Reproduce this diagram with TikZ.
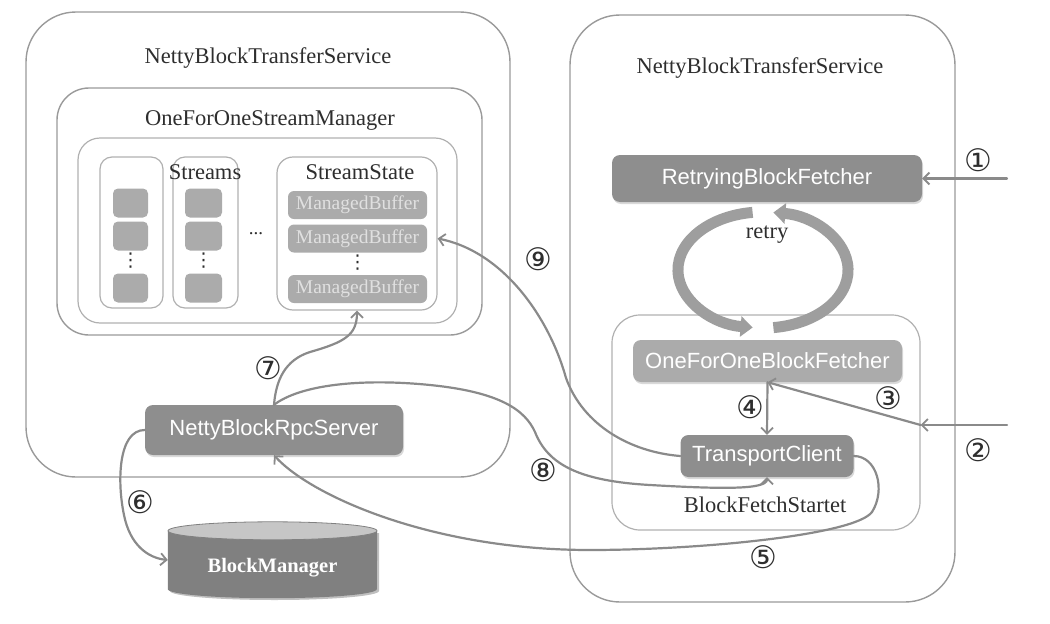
\documentclass[tikz,border=0pt]{standalone}
\usepackage{fontspec}
\setmainfont{Liberation Serif}
\setsansfont{Liberation Sans}
\newfontfamily\circfont{DejaVu Sans}
\usetikzlibrary{arrows.meta,shadows}
\definecolor{frameC}{HTML}{9A9A9A}
\definecolor{innerC}{HTML}{B0B0B0}
\definecolor{darkbox}{HTML}{8E8E8E}
\definecolor{lightbox}{HTML}{ABABAB}
\definecolor{lineC}{HTML}{8A8A8A}
\definecolor{cylC}{HTML}{808080}
\definecolor{cyltop}{HTML}{C6C6C6}
\definecolor{txtC}{HTML}{2E2E2E}
\definecolor{retryC}{HTML}{9E9E9E}
\begin{document}
\begin{tikzpicture}[x=1pt,y=-1pt,
  outerframe/.style={draw=frameC, line width=1.4pt, inner sep=0pt},
  innerframe/.style={draw=innerC, line width=1.2pt, inner sep=0pt},
  gbox/.style={fill=darkbox, rounded corners=8pt, inner sep=0pt, text=white,
    font=\sffamily\fontsize{22}{26}\selectfont,
    drop shadow={shadow xshift=1pt,shadow yshift=-2pt,opacity=0.3}},
  lbox/.style={gbox, fill=lightbox},
  mbbox/.style={fill=lightbox, rounded corners=6pt, inner sep=0pt, text=white!88!black,
    font=\fontsize{19.5}{22}\selectfont, minimum width=139pt, minimum height=28pt},
  sq/.style={fill=lightbox, rounded corners=5pt, inner sep=0pt, minimum height=29pt},
  lblserif/.style={font=\fontsize{22.5}{26}\selectfont, text=txtC, inner sep=0pt},
  circ/.style={font=\circfont\fontsize{31}{34}\selectfont, text=txtC, inner sep=0pt},
  vdotsnode/.style={font=\circfont\fontsize{19}{19}\selectfont, text=txtC, inner sep=0pt},
  dotsnode/.style={font=\fontsize{19}{19}\selectfont, text=txtC, inner sep=0pt},
  conn/.style={draw=lineC, line width=2.2pt, line cap=round,
    -{Straight Barb[length=6pt,width=12pt,line width=1.8pt]}}
]
\useasboundingbox (0,0) rectangle (1050,624);

% ---------------- left service ----------------
\node[outerframe, rounded corners=50pt, minimum width=484pt, minimum height=465pt] (lsvc) at (268,244.5) {};
\node[lblserif] (ltitle) at (268,58) {NettyBlockTransferService};
\node[outerframe, rounded corners=32pt, minimum width=425pt, minimum height=247pt] (osm) at (269.5,211.5) {};
\node[lblserif] (osmtitle) at (270,120) {OneForOneStreamManager};
\node[innerframe, rounded corners=22pt, minimum width=379pt, minimum height=185pt] (streamsbox) at (267.5,230.5) {};
\node[innerframe, rounded corners=12pt, minimum width=63pt, minimum height=151pt] (col1) at (131.5,232.5) {};
\node[innerframe, rounded corners=12pt, minimum width=65pt, minimum height=151pt] (col2) at (205.5,232.5) {};
\node[lblserif] (streamslbl) at (205,172) {Streams};
\node[sq, minimum width=35pt] (s11) at (130.5,203) {};
\node[sq, minimum width=35pt] (s12) at (130.5,236) {};
\node[vdotsnode] (d1) at (130.5,261) {⋮};
\node[sq, minimum width=35pt] (s13) at (130.5,288) {};
\node[sq, minimum width=37pt] (s21) at (203.5,203) {};
\node[sq, minimum width=37pt] (s22) at (203.5,236) {};
\node[vdotsnode] (d2) at (203.5,261) {⋮};
\node[sq, minimum width=37pt] (s23) at (203.5,288) {};
\node[dotsnode] (hd) at (256,234) {...};
\node[innerframe, rounded corners=16pt, minimum width=160pt, minimum height=153pt] (ss) at (357,233.5) {};
\node[lblserif] (sslbl) at (360,172) {StreamState};
\node[mbbox] (mb1) at (357.5,205) {ManagedBuffer};
\node[mbbox] (mb2) at (357.5,238.5) {ManagedBuffer};
\node[vdotsnode] (d3) at (357.5,263) {⋮};
\node[mbbox] (mb3) at (357.5,289) {ManagedBuffer};

\node[gbox, minimum width=258pt, minimum height=50pt] (nbrs) at (274,430) {NettyBlockRpcServer};

% BlockManager cylinder
\node[minimum width=209pt, minimum height=58pt, inner sep=0pt] (bm) at (272.5,560) {};
\fill[black, opacity=0.25] (170,533) -- (170,591) arc[start angle=180, end angle=360, x radius=104.5pt, y radius=9pt] -- (379,533) -- cycle;
\fill[cylC] (bm.north west) -- (bm.south west) arc[start angle=180, end angle=360, x radius=104.5pt, y radius=9pt] -- (bm.north east) -- cycle;
\filldraw[fill=cyltop, draw=cylC, line width=0.8pt] (bm.north) ellipse[x radius=104.5pt, y radius=9pt];
\node[font=\bfseries\fontsize{20.5}{24}\selectfont, text=white, inner sep=0pt] (bmlbl) at (272.5,568) {BlockManager};

% ---------------- right service ----------------
\node[outerframe, rounded corners=50pt, minimum width=385pt, minimum height=587pt] (rsvc) at (762.5,308.5) {};
\node[lblserif] (rtitle) at (760,68) {NettyBlockTransferService};
\node[gbox, minimum width=310pt, minimum height=47pt] (rbf) at (767,178.5) {RetryingBlockFetcher};
\node[innerframe, rounded corners=28pt, minimum width=308pt, minimum height=215pt] (bfs) at (766,422.5) {};
\node[lbox, minimum width=269pt, minimum height=42pt] (ofo) at (767.5,361) {OneForOneBlockFetcher};
\node[gbox, minimum width=173pt, minimum height=42pt] (tc) at (767,456) {TransportClient};
\node[lblserif] (bfslbl) at (765,505) {BlockFetchStartet};

% retry loop
\draw[retryC, line width=11pt, -{Triangle[length=12pt,width=20pt]}]
  (752.6,212.4) arc[start angle=97, end angle=263, x radius=85pt, y radius=58pt];
\draw[retryC, line width=11pt, -{Triangle[length=12pt,width=20pt]}]
  (773.4,327.6) arc[start angle=-83, end angle=83, x radius=85pt, y radius=58pt];
\node[lblserif] (retrylbl) at (767,235) {retry};

% ---------------- connectors ----------------
\coordinate (in1) at (1007,178.5);
\coordinate (in2) at (1007,425);
\draw[conn] (in1) -- (rbf.east);
\draw[conn] (in2) -- (bfs.east |- in2);
\draw[conn] (bfs.east |- in2) -- (ofo.south);
\draw[conn] (ofo.south) -- (tc.north);

% 5
\draw[conn] (tc.east) .. controls (877,456) and (886,490) .. (872,512)
  .. controls (855,535) and (700,550) .. (590,550)
  .. controls (430,550) and (310,495) .. (nbrs.south);
% 6
\draw[conn] (nbrs.west) .. controls (118,430) and (117,482) .. (124,515)
  .. controls (130,545) and (148,558) .. (bm.west);
% 7
\draw[conn] (nbrs.north) .. controls (276,380) and (285,360) .. (310,352)
  .. controls (345,342) and (357,335) .. (ss.south);
% 8
\draw[conn] (nbrs.north) .. controls (300,385) and (360,378) .. (430,385)
  .. controls (500,392) and (525,410) .. (535,432)
  .. controls (548,465) and (580,481) .. (650,485)
  .. controls (720,489) and (767,490) .. (tc.south);
% 9
\draw[conn] (tc.west) .. controls (630,452) and (583,425) .. (566,378)
  .. controls (550,320) and (505,252) .. (ss.east |- mb2.east);

% ---------------- numbers ----------------
\node[circ] (n1) at (978,160) {①};
\node[circ] (n2) at (978,450) {②};
\node[circ] (n3) at (888,398) {③};
\node[circ] (n4) at (750,407) {④};
\node[circ] (n5) at (763,557) {⑤};
\node[circ] (n6) at (140,502) {⑥};
\node[circ] (n7) at (268,368) {⑦};
\node[circ] (n8) at (543,470) {⑧};
\node[circ] (n9) at (538,259) {⑨};
\end{tikzpicture}
\end{document}
